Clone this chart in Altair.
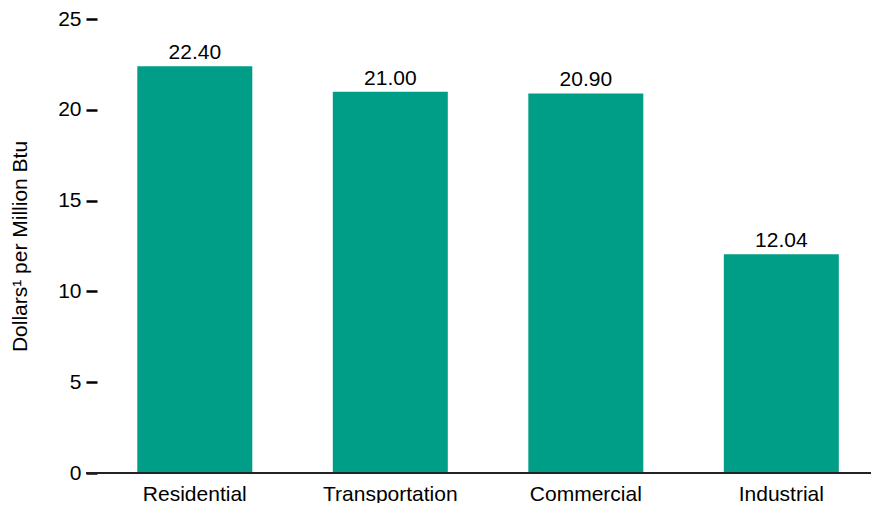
import altair as alt
import pandas as pd

sectors = ["Residential", "Transportation", "Commercial", "Industrial"]
prices = [22.40, 21.00, 20.90, 12.04]
labels = ["22.40", "21.00", "20.90", "12.04"]
y_ticks = [0, 5, 10, 15, 20, 25]

df = pd.DataFrame({"sector": sectors, "price": prices, "label": labels})

FONT = "Liberation Sans"
W, H = 774, 454

x_enc = alt.X(
    "sector:N",
    sort=sectors,
    title=None,
    scale=alt.Scale(paddingInner=0.4118, paddingOuter=0.1854, align=0.556),
    axis=alt.Axis(
        domain=False, ticks=False, labelAngle=0, labelFontSize=21,
        labelFont=FONT, labelColor="#000", labelPadding=27,
        labelBaseline="alphabetic",
    ),
)
y_enc = alt.Y(
    "price:Q",
    title="Dollars¹ per Million Btu",
    scale=alt.Scale(domain=[0, 25], nice=False),
    axis=alt.Axis(
        values=y_ticks, grid=False, domain=False, tickSize=11, tickWidth=2.5,
        tickColor="#000", labelFontSize=21, labelFont=FONT, labelColor="#000",
        labelPadding=5, titleFont=FONT, titleFontSize=21, titleFontWeight="normal",
        titleColor="#000", titleX=-77, titleBaseline="middle",
    ),
)

bars = alt.Chart(df).mark_bar(color="#009E86").encode(x=x_enc, y=y_enc)

text = alt.Chart(df).mark_text(
    font=FONT, fontSize=21, color="#000", baseline="alphabetic", dy=-7
).encode(x=alt.X("sector:N", sort=sectors), y="price:Q", text="label:N")

base = alt.Chart(df).mark_rule(color="#222", strokeWidth=2).encode(
    x=alt.value(-11), x2=alt.value(W), y=alt.value(H)
)

chart = (bars + text + base).properties(
    width=W, height=H,
    autosize=alt.AutoSizeParams(type="none"),
    padding={"left": 89, "top": 11, "right": 0, "bottom": 30},
).configure_view(stroke=None)

chart.save("out.html", embed_options={"renderer": "svg", "actions": False})
